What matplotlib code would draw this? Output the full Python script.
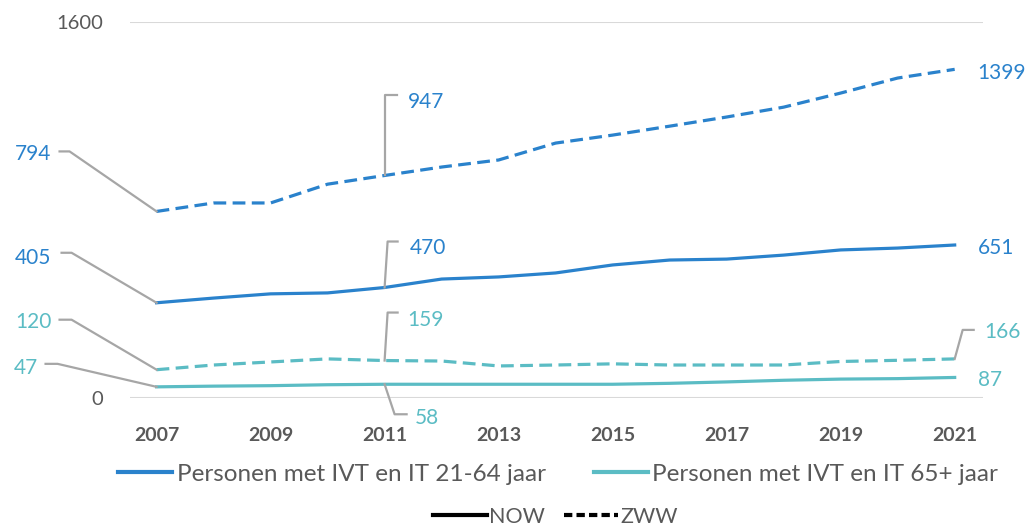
import numpy as np
import matplotlib
matplotlib.use("Agg")
import matplotlib.pyplot as plt
from matplotlib.lines import Line2D
from matplotlib.transforms import IdentityTransform

plt.rcParams['font.family'] = ['Lato', 'DejaVu Sans']

years = np.arange(2007, 2022)
now_2164 = [405, 425, 443, 447, 470, 506, 515, 532, 566, 587, 591, 608, 630, 638, 651]
zww_2164 = [794, 830, 830, 910, 947, 983, 1013, 1085, 1119, 1157, 1196, 1238, 1298, 1362, 1399]
now_65 = [47, 50, 52, 56, 58, 58, 58, 58, 58, 62, 68, 75, 80, 82, 87]
zww_65 = [120, 140, 153, 166, 159, 157, 136, 140, 145, 140, 140, 140, 155, 160, 166]
xticks = [2007, 2009, 2011, 2013, 2015, 2017, 2019, 2021]

BLUE = '#2a82cc'
TEAL = '#5bbcc4'
GREY = '#a6a6a6'
TXT = '#595959'

fig = plt.figure(figsize=(10.3, 5.27), dpi=100)
ax = fig.add_axes([0.126, 0.245, 0.828, 0.713])
ax.set_xlim(2006.53, 2021.49)
ax.set_ylim(0, 1600)

lw = 2.3
ax.plot(years, zww_2164, color=BLUE, lw=lw, dashes=(4, 2))
ax.plot(years, now_2164, color=BLUE, lw=lw)
ax.plot(years, zww_65, color=TEAL, lw=lw, dashes=(4, 2))
ax.plot(years, now_65, color=TEAL, lw=lw)

for v in (0, 1600):
    ax.axhline(v, color='#d9d9d9', lw=1.5, zorder=0)

ax.set_yticks([0, 1600])
ax.set_yticklabels(['0', '1600'])
ax.set_xticks(xticks)
ax.tick_params(length=0)
ax.tick_params(axis='y', pad=19, labelsize=14.5, labelcolor=TXT)
ax.tick_params(axis='x', pad=21, labelsize=14, labelcolor=TXT)
for t in ax.get_xticklabels():
    t.set_fontweight('bold')
for s in ax.spines.values():
    s.set_visible(False)


def label(x, y, text, color, off, path=None):
    # leader line in pixel offsets from the data point
    if path:
        base = ax.transData.transform((x, y))
        pts = base + np.array([(0, 0)] + path)
        ax.add_line(Line2D(pts[:, 0], pts[:, 1], transform=IdentityTransform(),
                           color=GREY, lw=1.6, clip_on=False))
    ha = 'right' if off[0] < 0 else 'left'
    ax.annotate(text, (x, y), xytext=off, textcoords='offset pixels',
                ha=ha, va='center', color=color, fontsize=15)


series = [(zww_2164, BLUE), (now_2164, BLUE), (zww_65, TEAL), (now_65, TEAL)]
first = [((-105, 57), [(-87, 60), (-97, 60)]),
         ((-105, 45), [(-85, 50), (-95, 50)]),
         ((-105, 48), [(-85, 50), (-97, 50)]),
         ((-119, 19), [(-99, 23), (-111, 23)])]
mid = [((23, 73), [(0, 80), (12, 80)]),
       ((25, 40), [(3, 46), (13, 46)]),
       ((23, 41), [(3, 48), (13, 48)]),
       ((30, -34), [(10, -30), (22, -30)])]
last = [((23, -4), None), ((23, -3), None),
        ((30, 27), [(8, 29), (19, 29)]), ((23, -3), None)]

for (vals, c), f, m, l in zip(series, first, mid, last):
    label(years[0], vals[0], str(vals[0]), c, *f)
    label(years[4], vals[4], str(vals[4]), c, *m)
    label(years[-1], vals[-1], str(vals[-1]), c, *l)

h1 = [Line2D([], [], color=BLUE, lw=3), Line2D([], [], color=TEAL, lw=3)]
fig.legend(h1, ['Personen met IVT en IT 21-64 jaar', 'Personen met IVT en IT 65+ jaar'],
           loc='center', bbox_to_anchor=(0.542, 0.1), ncol=2, frameon=False,
           fontsize=17.5, handlelength=2.2, handletextpad=0.2, columnspacing=2.0,
           labelcolor=TXT)
h2 = [Line2D([], [], color='black', lw=3), Line2D([], [], color='black', lw=3, dashes=(2, 1))]
fig.legend(h2, ['NOW', 'ZWW'], loc='center', bbox_to_anchor=(0.539, 0.019), ncol=2,
           frameon=False, fontsize=15.5, handlelength=2.5, handletextpad=0.1,
           columnspacing=0.9, labelcolor=TXT)

fig.savefig('out.png', dpi=100)
